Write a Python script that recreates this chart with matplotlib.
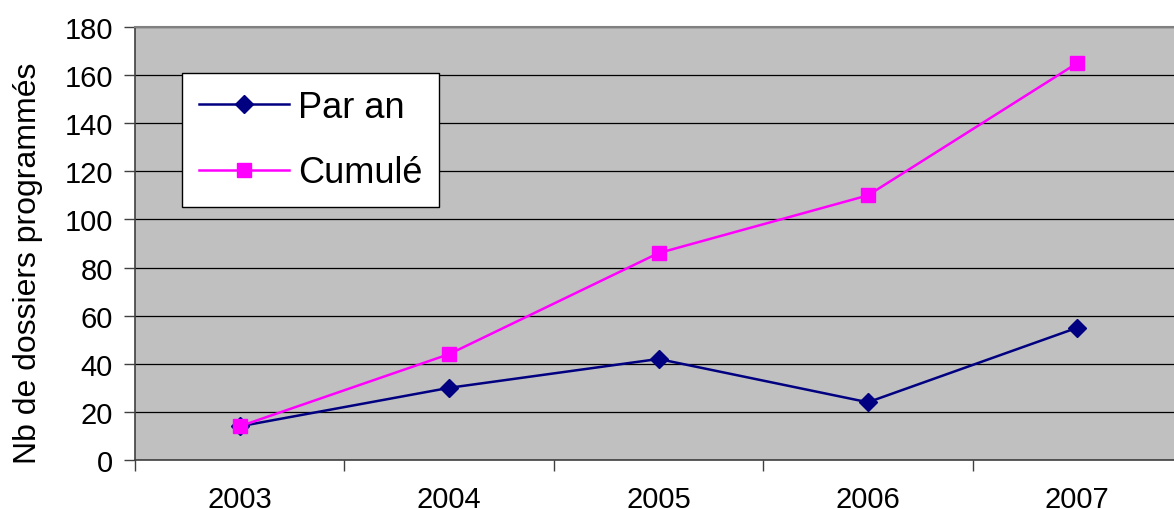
import matplotlib
matplotlib.use('Agg')
import matplotlib.pyplot as plt
import numpy as np

# Dossiers programmés par année et cumul
years = ['2003', '2004', '2005', '2006', '2007']
par_an = [14, 30, 42, 24, 55]
cumule = [14, 44, 86, 110, 165]

plt.rcParams['font.family'] = ['Liberation Sans', 'DejaVu Sans']

fig = plt.figure(figsize=(11.74, 5.10), dpi=100)
ax = fig.add_axes([135 / 1174, 49 / 510, 1047 / 1174, 433 / 510])
ax.set_facecolor('#C0C0C0')

x = np.arange(len(years))
ax.plot(x, par_an, color='#000080', lw=1.8, marker='D', ms=9.5,
        label='Par an', zorder=3)
ax.plot(x, cumule, color='#FF00FF', lw=1.8, marker='s', ms=10,
        label='Cumulé', zorder=3)

ax.set_xlim(-0.5, len(years) - 0.5)
ax.set_ylim(0, 180)
ax.set_yticks(np.arange(0, 181, 20))
ax.yaxis.grid(True, color='black', lw=0.9)
ax.set_axisbelow(True)

# year labels centred, tick marks on category boundaries
ax.set_xticks(x)
ax.set_xticklabels(years)
ax.set_xticks(np.arange(-0.5, len(years), 1.0), minor=True)
ax.tick_params(axis='x', which='major', length=0, pad=18, labelsize=21)
ax.tick_params(axis='x', which='minor', length=8, width=1, color='#404040')
ax.tick_params(axis='y', length=8, width=1, color='#404040', pad=8, labelsize=21)

for side in ['left', 'bottom']:
    ax.spines[side].set_color('#404040')
    ax.spines[side].set_linewidth(1.2)
ax.spines['top'].set_color('#808080')
ax.spines['top'].set_linewidth(1.5)
ax.spines['right'].set_visible(False)

ax.set_ylabel('Nb de dossiers programmés', fontsize=23)
ax.yaxis.set_label_coords(-0.088, 0.457)

leg = ax.legend(loc='upper left', bbox_to_anchor=(47 / 1047, 1 - 46 / 433),
                fontsize=26, frameon=True, fancybox=False, framealpha=1,
                edgecolor='black', handlelength=2.5, handletextpad=0.25,
                labelspacing=0.85, borderpad=0.46, borderaxespad=0)
leg.get_frame().set_linewidth(1)

fig.savefig('out.png', dpi=100)
